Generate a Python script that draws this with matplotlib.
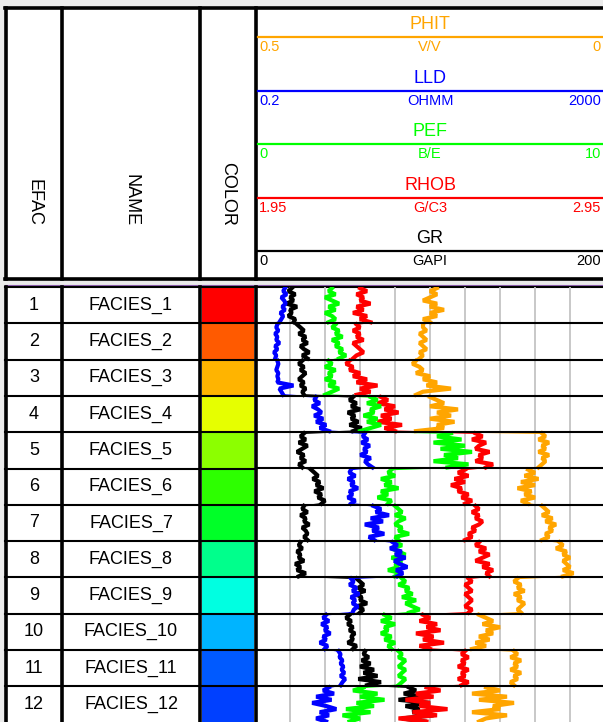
import matplotlib

matplotlib.use("Agg")

import matplotlib.pyplot as plt
import numpy as np
from matplotlib.patches import Rectangle

plt.rcParams["font.family"] = ["Liberation Sans", "DejaVu Sans"]

# facies table
efac = list(range(1, 13))
names = [f"FACIES_{i}" for i in efac]
facies_colors = [
    "#ff0000", "#ff5a00", "#ffb400", "#e6ff00", "#8cff00", "#2dff00",
    "#00ff28", "#00ff8c", "#00ffe1", "#00b4ff", "#005aff", "#0040ff",
]

# log curves, 12 samples per facies interval
gr = [
    [21, 19, 23, 20, 22, 18, 24, 20, 21, 19, 23, 22],
    [24, 26, 28, 25, 29, 27, 30, 26, 28, 31, 27, 30],
    [27, 25, 28, 26, 29, 27, 25, 28, 26, 29, 27, 28],
    [56, 54, 58, 55, 60, 53, 57, 55, 59, 54, 61, 56],
    [28, 26, 29, 25, 30, 27, 24, 28, 26, 29, 25, 27],
    [32, 34, 36, 33, 37, 35, 39, 34, 38, 36, 40, 38],
    [28, 27, 30, 26, 29, 28, 31, 27, 29, 30, 28, 30],
    [26, 25, 27, 24, 26, 25, 28, 23, 26, 24, 29, 25],
    [58, 60, 62, 59, 63, 57, 61, 60, 64, 58, 62, 60],
    [54, 52, 55, 53, 56, 54, 57, 55, 56, 53, 58, 56],
    [63, 62, 65, 61, 66, 60, 68, 62, 70, 59, 72, 64],
    [88, 92, 85, 96, 82, 100, 86, 94, 90, 102, 84, 97],
]
rhob = [
    [2.25, 2.27, 2.24, 2.26, 2.25, 2.28, 2.24, 2.26, 2.23, 2.27, 2.25, 2.28],
    [2.24, 2.25, 2.23, 2.25, 2.24, 2.26, 2.23, 2.24, 2.25, 2.26, 2.24, 2.23],
    [2.22, 2.21, 2.23, 2.22, 2.25, 2.23, 2.27, 2.24, 2.30, 2.25, 2.28, 2.24],
    [2.31, 2.33, 2.30, 2.35, 2.32, 2.36, 2.31, 2.34, 2.30, 2.37, 2.32, 2.35],
    [2.58, 2.60, 2.57, 2.61, 2.59, 2.58, 2.62, 2.59, 2.60, 2.58, 2.63, 2.61],
    [2.55, 2.53, 2.56, 2.52, 2.55, 2.51, 2.54, 2.53, 2.56, 2.54, 2.57, 2.55],
    [2.58, 2.59, 2.57, 2.59, 2.58, 2.60, 2.59, 2.57, 2.58, 2.56, 2.57, 2.55],
    [2.59, 2.58, 2.61, 2.59, 2.62, 2.60, 2.58, 2.62, 2.60, 2.63, 2.61, 2.62],
    [2.56, 2.57, 2.55, 2.56, 2.57, 2.55, 2.56, 2.57, 2.56, 2.55, 2.57, 2.56],
    [2.43, 2.45, 2.42, 2.47, 2.44, 2.48, 2.41, 2.46, 2.43, 2.49, 2.42, 2.45],
    [2.55, 2.54, 2.56, 2.54, 2.55, 2.53, 2.56, 2.54, 2.55, 2.53, 2.56, 2.54],
    [2.44, 2.48, 2.41, 2.46, 2.38, 2.45, 2.42, 2.50, 2.40, 2.47, 2.36, 2.44],
]
pef = [
    [2.2, 2.1, 2.3, 2.0, 2.2, 2.4, 2.1, 2.3, 2.0, 2.2, 2.3, 2.1],
    [2.3, 2.2, 2.4, 2.3, 2.5, 2.2, 2.4, 2.3, 2.5, 2.4, 2.6, 2.4],
    [2.1, 2.2, 2.0, 2.3, 2.1, 2.2, 2.0, 2.3, 2.1, 2.4, 2.2, 2.0],
    [3.3, 3.5, 3.2, 3.6, 3.3, 3.4, 3.1, 3.5, 3.2, 3.6, 3.3, 3.0],
    [5.6, 5.2, 5.9, 5.1, 6.0, 5.3, 6.2, 5.4, 5.8, 5.1, 6.1, 5.5],
    [3.9, 3.8, 4.0, 3.6, 3.9, 3.7, 4.1, 3.6, 3.8, 3.5, 3.9, 3.8],
    [4.0, 4.1, 4.2, 4.0, 4.3, 4.1, 4.0, 4.2, 4.1, 4.4, 4.0, 4.1],
    [4.0, 4.2, 3.9, 4.1, 4.3, 3.9, 4.2, 4.0, 4.1, 3.8, 4.2, 4.0],
    [4.2, 4.3, 4.1, 4.4, 4.3, 4.5, 4.2, 4.6, 4.3, 4.5, 4.7, 4.4],
    [3.7, 3.9, 3.6, 4.0, 3.7, 3.8, 3.6, 3.9, 3.7, 4.0, 3.8, 3.9],
    [4.1, 4.2, 4.1, 4.3, 4.2, 4.1, 4.3, 4.2, 4.1, 4.3, 4.2, 4.1],
    [3.1, 2.8, 3.5, 3.0, 3.7, 2.9, 3.4, 2.6, 3.3, 2.5, 3.0, 2.7],
]
lld = [
    [0.44, 0.42, 0.46, 0.40, 0.43, 0.45, 0.41, 0.44, 0.39, 0.42, 0.40, 0.38],
    [0.36, 0.35, 0.37, 0.34, 0.36, 0.35, 0.38, 0.34, 0.36, 0.33, 0.35, 0.34],
    [0.36, 0.37, 0.36, 0.35, 0.37, 0.36, 0.37, 0.36, 0.55, 0.38, 0.40, 0.42],
    [1.0, 0.95, 1.1, 0.9, 1.05, 1.15, 0.95, 1.2, 1.0, 1.3, 1.1, 1.4],
    [3.6, 3.4, 3.9, 3.3, 4.1, 3.5, 3.8, 3.2, 4.2, 3.6, 3.9, 4.4],
    [2.5, 2.4, 2.8, 2.3, 2.7, 2.5, 3.0, 2.4, 2.6, 2.3, 2.8, 2.5],
    [4.5, 5.5, 4.8, 6.8, 4.2, 5.8, 3.6, 5.2, 4.4, 6.0, 4.0, 4.6],
    [7.5, 8.5, 7.0, 9.5, 8.0, 10.5, 7.8, 9.0, 11.0, 8.2, 9.8, 8.5],
    [2.5, 2.7, 2.4, 2.9, 2.6, 3.1, 2.5, 2.8, 2.6, 3.0, 2.7, 2.6],
    [1.3, 1.2, 1.4, 1.15, 1.35, 1.25, 1.45, 1.2, 1.3, 1.1, 1.35, 1.25],
    [1.8, 1.9, 1.85, 2.0, 1.9, 2.05, 1.95, 2.1, 1.9, 2.15, 2.0, 1.9],
    [1.4, 1.2, 1.6, 1.0, 1.5, 0.9, 1.3, 1.7, 1.1, 1.4, 1.0, 1.3],
]
phit = [
    [0.24, 0.25, 0.24, 0.25, 0.26, 0.24, 0.25, 0.23, 0.25, 0.24, 0.26, 0.25],
    [0.26, 0.26, 0.255, 0.265, 0.26, 0.255, 0.265, 0.26, 0.255, 0.265, 0.26, 0.265],
    [0.27, 0.275, 0.265, 0.26, 0.27, 0.25, 0.26, 0.24, 0.255, 0.22, 0.26, 0.27],
    [0.25, 0.24, 0.23, 0.25, 0.21, 0.24, 0.22, 0.25, 0.215, 0.24, 0.23, 0.27],
    [0.09, 0.085, 0.095, 0.08, 0.09, 0.085, 0.095, 0.08, 0.09, 0.085, 0.09, 0.095],
    [0.11, 0.10, 0.115, 0.095, 0.12, 0.10, 0.125, 0.105, 0.115, 0.10, 0.12, 0.11],
    [0.09, 0.085, 0.08, 0.09, 0.075, 0.085, 0.07, 0.08, 0.075, 0.085, 0.08, 0.09],
    [0.065, 0.06, 0.07, 0.055, 0.06, 0.05, 0.06, 0.055, 0.05, 0.06, 0.045, 0.06],
    [0.125, 0.13, 0.12, 0.125, 0.115, 0.13, 0.12, 0.125, 0.115, 0.12, 0.125, 0.12],
    [0.18, 0.17, 0.16, 0.175, 0.15, 0.17, 0.16, 0.18, 0.165, 0.185, 0.17, 0.19],
    [0.13, 0.125, 0.135, 0.12, 0.13, 0.125, 0.135, 0.12, 0.13, 0.125, 0.135, 0.13],
    [0.17, 0.15, 0.19, 0.14, 0.18, 0.13, 0.16, 0.15, 0.19, 0.14, 0.17, 0.18],
]

# track header, top to bottom
header_names = ["PHIT", "LLD", "PEF", "RHOB", "GR"]
header_units = ["V/V", "OHMM", "B/E", "G/C3", "GAPI"]
header_left = ["0.5", "0.2", "0", "1.95", "0"]
header_right = ["0", "2000", "10", "2.95", "200"]
header_colors = ["#ffa500", "#0000ff", "#00ff00", "#ff0000", "#000000"]

W, H = 603, 722
fig = plt.figure(figsize=(W / 100, H / 100), dpi=100, facecolor="#ebebeb")

base = fig.add_axes([0, 0, 1, 1])
base.set_xlim(0, W)
base.set_ylim(H, 0)
base.axis("off")

x_left, x_efac, x_name, x_color, x_right = 5, 62, 200, 255.5, 605
y_top, y_head, y_body = 7.5, 279, 287
row_h = 36.3

base.add_patch(Rectangle((x_left, y_top), x_right - x_left, y_head - y_top, fc="white", ec="none"))
base.add_patch(Rectangle((x_left, y_body), x_right - x_left, H - y_body + 5, fc="white", ec="none"))

thick = 2.6
# header frame
base.plot([x_left, x_right], [y_top, y_top], color="black", lw=thick)
base.plot([x_left, x_right], [y_head, y_head], color="black", lw=thick)
base.plot([x_left, x_right], [285, 285], color="#9060b0", lw=0.8)
base.plot([x_left, x_right], [y_body, y_body], color="black", lw=1.5)
for xv in [x_left + 1, x_efac, x_name, x_color]:
    base.plot([xv, xv], [y_top, y_head], color="black", lw=thick)
    base.plot([xv, xv], [y_body, H + 2], color="black", lw=thick)

for xc, label in [(34, "EFAC"), (131, "NAME"), (228, "COLOR")]:
    base.text(xc, 226, label, rotation=270, ha="center", va="bottom", fontsize=13)

# curve scales in the header
for i, name in enumerate(header_names):
    c = header_colors[i]
    yt = 24.5 + i * 53.6
    yl = 37 + i * 53.6
    yv = 47 + i * 53.6
    base.text(430, yt, name, color=c, ha="center", va="center", fontsize=13)
    base.plot([257.5, x_right], [yl, yl], color=c, lw=1.6)
    base.text(259, yv, header_left[i], color=c, ha="left", va="center", fontsize=10.5)
    base.text(430, yv, header_units[i], color=c, ha="center", va="center", fontsize=10.5)
    base.text(601, yv, header_right[i], color=c, ha="right", va="center", fontsize=10.5)

# facies table rows
for i in range(12):
    y0 = y_body + i * row_h
    base.add_patch(Rectangle((x_name + 2, y0), x_color - x_name - 4, row_h, fc=facies_colors[i], ec="none", zorder=1))
    base.text(34, y0 + row_h / 2, str(efac[i]), ha="center", va="center", fontsize=13, zorder=3)
    base.text(131, y0 + row_h / 2, names[i], ha="center", va="center", fontsize=13, zorder=3)
    if i > 0:
        base.plot([x_left, x_color], [y0, y0], color="black", lw=1.5, zorder=2)

# log track: one overlaid axes per curve
rect = [255 / W, (H - (y_body + 12 * row_h)) / H, 350 / W, 12 * row_h / H]
row_depths = [r + np.linspace(0.03, 0.97, 12) for r in range(12)]

curves = [
    ("GR", gr, (0, 200), "linear", "black"),
    ("RHOB", rhob, (1.95, 2.95), "linear", "#ff0000"),
    ("PEF", pef, (0, 10), "linear", "#00ff00"),
    ("LLD", lld, (0.2, 2000), "log", "#0000ff"),
    ("PHIT", phit, (0.5, 0), "linear", "#ffa500"),
]
track_axes = []
for name, values, lim, scale, color in curves:
    ax = fig.add_axes(rect, facecolor="none")
    ax.set_xscale(scale)
    ax.set_xlim(*lim)
    ax.set_ylim(12, 0)
    ax.axis("off")
    if name == "GR":
        for xv in np.arange(20, 200, 20):
            ax.axvline(xv, color="#c4c4c4", lw=1.3, zorder=0)
    for r in range(12):
        ax.plot(values[r], row_depths[r], color=color, lw=3.0, solid_joinstyle="bevel")
        if r < 11:
            # thin jump to the next facies interval
            ax.plot([values[r][-1], values[r + 1][0]], [row_depths[r][-1], row_depths[r + 1][0]],
                    color=color, lw=1.0)
    track_axes.append(ax)

top = track_axes[-1]
for r in range(1, 12):
    top.axhline(r, color="black", lw=1.5, zorder=5)

fig.savefig("out.png", dpi=100, facecolor=fig.get_facecolor())
